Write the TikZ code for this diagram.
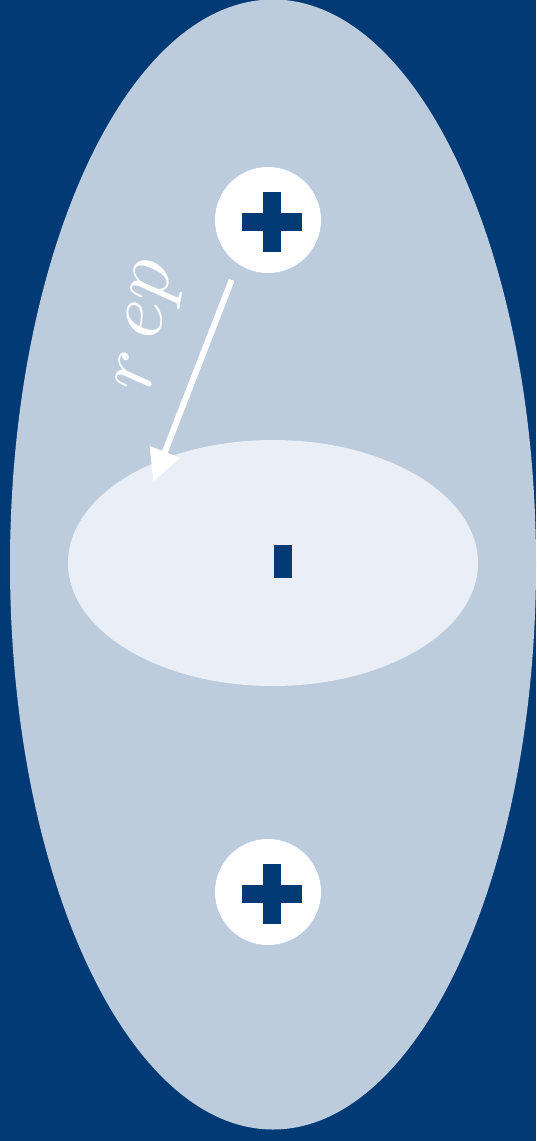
\documentclass[tikz,border=0pt]{standalone}
\usetikzlibrary{shapes.geometric,arrows.meta}
\usepackage{xcolor}
\usepackage{graphicx}
\definecolor{UniBlue}{RGB}{1,58,117}
\definecolor{PaleBlue}{RGB}{188,204,221}
\definecolor{IceBlue}{RGB}{234,238,246}

\begin{document}
\begin{tikzpicture}[
x=1pt,y=-1pt,
cloud/.style={
  ellipse,
  draw=none,
  inner sep=0pt
},
charge/.style={
  circle,
  fill=white,
  minimum size=106pt,
  inner sep=0pt,
  path picture={
    \fill[UniBlue] ([shift={(-26.5pt,-10.5pt)}]path picture bounding box.center)
      rectangle ([shift={(33.5pt,7.5pt)}]path picture bounding box.center);
    \fill[UniBlue] ([shift={(-5.5pt,-31.5pt)}]path picture bounding box.center)
      rectangle ([shift={(12.5pt,28.5pt)}]path picture bounding box.center);
  }
},
arrow/.style={-{Triangle[length=32pt,width=31pt]},line width=6pt,draw=white}
]
\useasboundingbox (0,0) rectangle (536,1141);
\fill[UniBlue] (0,0) rectangle (536,1141);

% electron cloud
\node[cloud,fill=PaleBlue,minimum width=526pt,minimum height=1130pt] (outer) at (273,564.5) {};
\node[cloud,fill=IceBlue,minimum width=410pt,minimum height=246pt] (inner) at (273,563) {};
\node[rectangle,fill=UniBlue,minimum width=18pt,minimum height=33pt,inner sep=0pt] (minus) at (283,561.5) {};

% nuclei
\node[charge] (p1) at (268,220) {};
\node[charge] (p2) at (268,892) {};

% distance
\coordinate (a0) at (231.7,280);
\coordinate (a1) at (153.3,481.7);
\draw[arrow] (a0)--(a1);
\node[text=white,rotate=80,inner sep=0pt] (lbl) at (151,327) {\scalebox{8.2}{$r\,ep$}};
\end{tikzpicture}
\end{document}
